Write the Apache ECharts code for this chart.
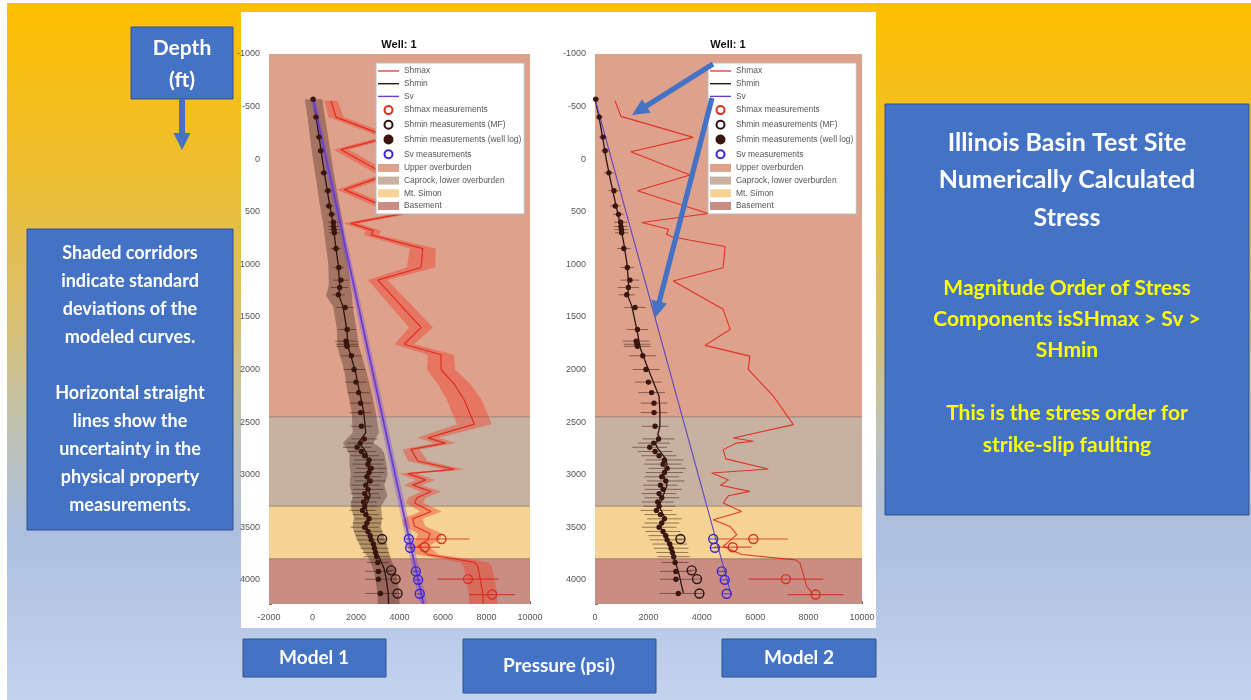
<!DOCTYPE html>
<html>
<head>
<meta charset="utf-8">
<script src="https://cdn.jsdelivr.net/npm/echarts@6/dist/echarts.min.js"></script>
<style>
  html, body { margin: 0; padding: 0; background: #fff; }
  #chart { width: 1251px; height: 700px; }
</style>
</head>
<body>
<div id="chart"></div>
<script>
// ---- data: [depth (ft), pressure (psi), std dev] ----
var shmaxModel1 = [
  [-555, 850, 300], [-400, 1080, 350], [-210, 3500, 350], [-90, 1310, 350], [150, 3400, 350],
  [290, 1460, 350], [520, 4100, 400], [610, 1770, 350], [680, 2800, 350], [720, 2700, 350],
  [850, 5070, 600], [1030, 4990, 650], [1150, 3000, 450], [1600, 4990, 550], [1760, 4220, 450],
  [1860, 5910, 600], [2000, 5910, 650], [2140, 6520, 750], [2290, 6980, 800], [2520, 7440, 800],
  [2650, 5300, 500], [2700, 6100, 500], [2760, 4530, 400], [2870, 4840, 450], [2950, 6520, 500],
  [2990, 4380, 400], [3050, 5200, 450], [3100, 4600, 400], [3160, 5450, 450], [3220, 4800, 400],
  [3270, 4690, 400], [3350, 5450, 500], [3420, 4600, 450], [3490, 4690, 500], [3560, 5400, 550],
  [3620, 5300, 550], [3680, 4840, 500], [3760, 5300, 500], [3800, 6500, 600], [3835, 7440, 650],
  [3870, 7600, 650], [4127, 7830, 650], [4230, 7850, 650]
];
var shminModel1 = [
  [-570, 50, 400], [-400, 170, 400], [-200, 310, 420], [0, 450, 430], [200, 600, 430],
  [400, 760, 450], [600, 930, 450], [800, 1050, 450], [1000, 1180, 450], [1200, 1250, 500],
  [1300, 1220, 600], [1400, 1400, 450], [1600, 1560, 450], [1800, 1660, 500], [2000, 1950, 500],
  [2200, 2150, 550], [2400, 2350, 550], [2600, 2450, 600], [2700, 2100, 700], [2750, 2350, 800],
  [2800, 2500, 800], [2900, 2550, 850], [3000, 2600, 850], [3100, 2500, 800], [3200, 2650, 800],
  [3300, 2450, 700], [3400, 2550, 650], [3500, 2500, 650], [3600, 2650, 650], [3700, 2850, 600],
  [3800, 3100, 500], [3900, 3300, 500], [4000, 3400, 500], [4127, 3480, 500], [4230, 3500, 500]
];
var svModel1 = [[-570, 30, 110], [4230, 5100, 160]];

var shmaxModel2 = [
  [-555, 750], [-407, 970], [-207, 3680], [-70, 1340], [150, 3560], [300, 1590], [517, 4240],
  [603, 1750], [667, 2750], [714, 2680], [740, 2900], [831, 4870], [1032, 4800], [1159, 2930],
  [1428, 4800], [1619, 5060], [1771, 4120], [1873, 5800], [2000, 5740], [2254, 6680], [2524, 7430],
  [2651, 5180], [2683, 5930], [2700, 5300], [2762, 4800], [2850, 4900], [2946, 6490], [2984, 4370],
  [3050, 5000], [3100, 4700], [3159, 5800], [3200, 5000], [3270, 4800], [3350, 5490], [3429, 4430],
  [3492, 5060], [3571, 5310], [3683, 4800], [3760, 5500], [3810, 7500], [3841, 7680], [4063, 7930],
  [4143, 8180]
];
var shminModel2 = [
  [-571, 0], [-400, 150], [-200, 290], [0, 420], [200, 580], [400, 750], [600, 930], [800, 1080],
  [1000, 1200], [1200, 1260], [1300, 1230], [1400, 1380], [1600, 1550], [1800, 1700], [2000, 2000],
  [2254, 2400], [2400, 2430], [2540, 2430], [2620, 2350], [2660, 2450], [2700, 2250], [2750, 2350],
  [2800, 2500], [2850, 2650], [2900, 2700], [3000, 2560], [3100, 2700], [3200, 2550], [3300, 2400],
  [3400, 2600], [3500, 2450], [3600, 2650], [3683, 2810], [3765, 2930], [3920, 3120], [4127, 3310]
];
var svModel2 = [[-570, 0], [4150, 5110]];

// measurements: [depth, pressure, +/- uncertainty]
var shminWellLog = [
  [-570, 30, 100], [-400, 160, 120], [-210, 300, 150], [-80, 380, 150], [130, 520, 180],
  [300, 710, 200], [445, 760, 200], [525, 880, 200], [600, 960, 250], [640, 970, 250],
  [670, 990, 250], [700, 1000, 250], [850, 1080, 250], [1030, 1210, 250], [1150, 1310, 350],
  [1220, 1250, 400], [1290, 1190, 300], [1410, 1500, 400], [1620, 1590, 400], [1730, 1540, 500],
  [1760, 1570, 500], [1780, 1590, 500], [1870, 1790, 500], [2000, 1910, 500], [2120, 2000, 500],
  [2220, 2120, 500], [2320, 2210, 500], [2410, 2210, 500], [2540, 2250, 500], [2660, 2380, 600],
  [2700, 2200, 600], [2740, 2050, 650], [2780, 2250, 650], [2820, 2400, 650], [2860, 2600, 700],
  [2900, 2550, 700], [2940, 2700, 700], [2980, 2600, 700], [3020, 2500, 650], [3060, 2650, 700],
  [3100, 2450, 650], [3140, 2550, 700], [3180, 2400, 650], [3220, 2500, 650], [3260, 2350, 600],
  [3300, 2400, 600], [3340, 2300, 600], [3380, 2450, 600], [3420, 2600, 650], [3460, 2500, 650],
  [3500, 2400, 650], [3540, 2550, 650], [3580, 2650, 650], [3620, 2700, 650], [3660, 2800, 650],
  [3700, 2850, 650], [3740, 2900, 600], [3780, 2950, 600], [3835, 3000, 500], [3920, 3030, 600],
  [3995, 3030, 600], [4130, 3120, 700]
];
var shminMF = [[3612, 3200, 150], [3910, 3620, 150], [3993, 3820, 150], [4130, 3910, 150]];
var shmaxMeas = [[3612, 5930, 1300], [3690, 5160, 700], [3993, 7150, 1400], [4140, 8260, 1050]];
var svMeas = [[3612, 4430, 150], [3695, 4490, 150], [3920, 4750, 150], [4000, 4860, 150], [4133, 4930, 150]];

// formation zones
var zoneNames = ['Upper overburden', 'Caprock, lower overburden', 'Mt. Simon', 'Basement'];
var zoneTops = [-1000, 2450, 3300, 3800];
var zoneBottoms = [2450, 3300, 3800, 4230];
var zoneColors = ['#DEA18C', '#C9B1A1', '#F6D395', '#C98D83'];

var depthTicks = [-1000, 4230, 500];
var pressureTicks1 = [-2000, 10000, 2000];
var pressureTicks2 = [0, 10000, 2000];

var chart = echarts.init(document.getElementById('chart'));

function xy(rows) {
  return rows.map(function (r) { return [r[1], r[0]]; });
}

function zoneSeries(g) {
  return zoneNames.map(function (name, i) {
    return {
      type: 'custom', name: name, xAxisIndex: g, yAxisIndex: g, silent: true, z: 1,
      itemStyle: {color: zoneColors[i]},
      data: [[0, zoneTops[i], zoneBottoms[i]]],
      encode: {x: 0, y: 1},
      renderItem: function (params, api) {
        var cs = params.coordSys;
        var y1 = api.coord([0, api.value(1)])[1];
        var y2 = api.coord([0, api.value(2)])[1];
        var children = [{
          type: 'rect', shape: {x: cs.x, y: y1, width: cs.width, height: y2 - y1},
          style: {fill: zoneColors[i]}
        }];
        if (i > 0) {
          children.push({
            type: 'line', shape: {x1: cs.x, y1: y1, x2: cs.x + cs.width, y2: y1},
            style: {stroke: 'rgba(110,80,70,0.55)', lineWidth: 1}
          });
        }
        return {type: 'group', children: children};
      }
    };
  });
}

function bandSeries(rows, color, g) {
  return {
    type: 'custom', xAxisIndex: g, yAxisIndex: g, silent: true, z: 2,
    data: [[rows[0][1], rows[0][0]]],
    renderItem: function (params, api) {
      var left = rows.map(function (r) { return api.coord([r[1] - r[2], r[0]]); });
      var right = rows.map(function (r) { return api.coord([r[1] + r[2], r[0]]); }).reverse();
      return {type: 'polygon', shape: {points: left.concat(right)}, style: {fill: color}};
    }
  };
}

function errorBarSeries(rows, color, g, w) {
  return {
    type: 'custom', xAxisIndex: g, yAxisIndex: g, silent: true, z: 4,
    data: rows.map(function (r) { return [r[1] - r[2], r[1] + r[2], r[0]]; }),
    encode: {x: [0, 1], y: 2},
    renderItem: function (params, api) {
      var a = api.coord([api.value(0), api.value(2)]);
      var b = api.coord([api.value(1), api.value(2)]);
      return {type: 'line', shape: {x1: a[0], y1: a[1], x2: b[0], y2: b[1]},
        style: {stroke: color, lineWidth: w}};
    }
  };
}

function lineSeries(name, rows, color, g, w) {
  return {
    type: 'line', name: name, xAxisIndex: g, yAxisIndex: g, z: 3,
    symbol: 'none', showSymbol: false, animation: false,
    lineStyle: {color: color, width: w}, itemStyle: {color: color},
    data: xy(rows)
  };
}

function scatterSeries(name, rows, fill, stroke, size, g) {
  return {
    type: 'scatter', name: name, xAxisIndex: g, yAxisIndex: g, z: 5,
    symbol: 'circle', symbolSize: size,
    itemStyle: {color: fill, borderColor: stroke, borderWidth: 1.4, opacity: 1},
    data: xy(rows)
  };
}

var series = [];
[0, 1].forEach(function (g) {
  series = series.concat(zoneSeries(g));
});
// model 1 std-dev corridors
series.push(bandSeries(shminModel1, 'rgba(60,30,20,0.35)', 0));
series.push(bandSeries(shmaxModel1, 'rgba(240,60,40,0.42)', 0));
series.push(bandSeries(svModel1, 'rgba(110,70,230,0.35)', 0));

[0, 1].forEach(function (g) {
  series.push(lineSeries('Shmax', g === 0 ? shmaxModel1 : shmaxModel2, 'rgba(225,30,20,0.85)', g, g === 0 ? 1.2 : 1.1));
  series.push(lineSeries('Shmin', g === 0 ? shminModel1 : shminModel2, '#2b1510', g, 1.3));
  series.push(lineSeries('Sv', g === 0 ? svModel1 : svModel2, g === 0 ? '#6a3fd0' : '#5a45c0', g, g === 0 ? 1.8 : 1.1));
  series.push(errorBarSeries(shminWellLog, 'rgba(50,25,15,0.5)', g, 1));
  series.push(errorBarSeries(shminMF, 'rgba(50,25,15,0.5)', g, 1));
  series.push(errorBarSeries(shmaxMeas, 'rgba(215,35,20,0.75)', g, 1.2));
  series.push(errorBarSeries(svMeas, 'rgba(60,40,210,0.7)', g, 1.2));
  series.push(scatterSeries('Shmax measurements', shmaxMeas, 'rgba(0,0,0,0)', '#d8301e', 9, g));
  series.push(scatterSeries('Shmin measurements (MF)', shminMF, 'rgba(0,0,0,0)', '#2a1510', 9, g));
  series.push(scatterSeries('Shmin measurements (well log)', shminWellLog, '#3a160e', '#3a160e', 4, g));
  series.push(scatterSeries('Sv measurements', svMeas, 'rgba(0,0,0,0)', '#3a26d8', 9, g));
});

var lineIcon = 'path://M0,0 L24,0 L24,1.6 L0,1.6 Z';
var legendData = [
  {name: 'Shmax', icon: lineIcon}, {name: 'Shmin', icon: lineIcon}, {name: 'Sv', icon: lineIcon},
  {name: 'Shmax measurements', icon: 'circle'},
  {name: 'Shmin measurements (MF)', icon: 'circle'},
  {name: 'Shmin measurements (well log)', icon: 'circle'},
  {name: 'Sv measurements', icon: 'circle'}
].concat(zoneNames.map(function (n) { return {name: n, icon: 'rect'}; }));

function legendAt(left) {
  return {
    orient: 'vertical', left: left, top: 63, selectedMode: false,
    backgroundColor: '#fff', borderColor: '#bbb', borderWidth: 1,
    padding: [4, 3, 4, 2], itemWidth: 21, itemHeight: 8, itemGap: 4.7,
    textStyle: {fontSize: 8.4, color: '#555', fontFamily: 'Liberation Sans', lineHeight: 8},
    data: legendData, z: 20
  };
}

function plain(v) { return String(v); }

function xAxisOf(g, t) {
  return {
    type: 'value', gridIndex: g, min: t[0], max: t[1], interval: t[2],
    splitLine: {show: false}, axisLine: {show: false, onZero: false},
    axisTick: {show: true, inside: true, length: 3, lineStyle: {color: '#777'}},
    axisLabel: {fontSize: 9, color: '#555', margin: 9, fontFamily: 'Liberation Sans', formatter: plain}
  };
}

function yAxisOf(g) {
  return {
    type: 'value', gridIndex: g, inverse: true, min: depthTicks[0], max: depthTicks[1], interval: depthTicks[2],
    splitLine: {show: false}, axisLine: {show: false, onZero: false},
    axisTick: {show: true, inside: true, length: 3, lineStyle: {color: '#777'}},
    axisLabel: {
      fontSize: 9, color: '#555', margin: 9, fontFamily: 'Liberation Sans',
      formatter: function (v) { return v % 500 === 0 ? String(v) : ''; }
    }
  };
}

function arrow(x1, y1, x2, y2, hw, hl, hh) {
  var dx = x2 - x1, dy = y2 - y1, len = Math.sqrt(dx * dx + dy * dy);
  var ux = dx / len, uy = dy / len, nx = -uy, ny = ux;
  var bx = x2 - ux * hl, by = y2 - uy * hl;
  return [
    [x1 + nx * hw, y1 + ny * hw], [bx + nx * hw, by + ny * hw], [bx + nx * hh, by + ny * hh],
    [x2, y2],
    [bx - nx * hh, by - ny * hh], [bx - nx * hw, by - ny * hw], [x1 - nx * hw, y1 - ny * hw]
  ];
}

var blue = '#4472C4';
function box(x, y, w, h) {
  return {type: 'rect', z: 100, shape: {x: x, y: y, width: w, height: h},
    style: {fill: blue, stroke: '#2F528F', lineWidth: 1}};
}
function label(text, x, y, size, color, lh) {
  return {type: 'text', z: 101, x: x, y: y,
    style: {text: text, fill: color, fontSize: size, fontWeight: 'bold', fontFamily: 'Lato',
      lineHeight: lh || size * 1.2, align: 'center', verticalAlign: 'middle',
      textAlign: 'center', textVerticalAlign: 'middle'}};
}

var option = {
  animation: false,
  grid: [
    {left: 269, top: 54, width: 261, height: 550},
    {left: 595, top: 54, width: 267, height: 550}
  ],
  xAxis: [xAxisOf(0, pressureTicks1), xAxisOf(1, pressureTicks2)],
  yAxis: [yAxisOf(0), yAxisOf(1)],
  legend: [legendAt(376), legendAt(708)],
  series: series,
  graphic: [
    {type: 'rect', z: -100, silent: true, shape: {x: 7, y: 3, width: 1244, height: 697},
      style: {fill: new echarts.graphic.LinearGradient(0, 0, 0, 1, [
        {offset: 0, color: '#FFC000'},
        {offset: 0.25, color: '#EDBE33'},
        {offset: 0.45, color: '#D9BF6E'},
        {offset: 0.62, color: '#BEC3B6'},
        {offset: 0.76, color: '#ADBFE0'},
        {offset: 1, color: '#C3D3EE'}
      ])}},
    {type: 'rect', z: -99, silent: true, shape: {x: 241, y: 12, width: 635, height: 616}, style: {fill: '#fff'}},
    {type: 'text', z: 50, x: 399, y: 45, style: {text: 'Well: 1', fill: '#111', fontSize: 11, fontWeight: 'bold',
      fontFamily: 'Liberation Sans', align: 'center', verticalAlign: 'middle', textAlign: 'center', textVerticalAlign: 'middle'}},
    {type: 'text', z: 50, x: 728, y: 45, style: {text: 'Well: 1', fill: '#111', fontSize: 11, fontWeight: 'bold',
      fontFamily: 'Liberation Sans', align: 'center', verticalAlign: 'middle', textAlign: 'center', textVerticalAlign: 'middle'}},

    box(131, 27, 102, 72),
    label('Depth\n(ft)', 182, 64, 21, '#fff', 32),
    {type: 'polygon', z: 100, shape: {points: arrow(182, 99, 182, 150, 3, 17, 8.5)}, style: {fill: blue}},

    box(27, 229, 206, 301),
    label('Shaded corridors\nindicate standard\ndeviations of the\nmodeled curves.\n\nHorizontal straight\nlines show the\nuncertainty in the\nphysical property\nmeasurements.',
      130, 379, 18, '#fff', 28),

    box(885, 104, 364, 411),
    label('Illinois Basin Test Site\nNumerically Calculated\nStress', 1067, 180, 25, '#fff', 37.5),
    label('Magnitude Order of Stress\nComponents isSHmax > Sv >\nSHmin', 1067, 319, 21, '#FFFF00', 31),
    label('This is the stress order for\nstrike-slip faulting', 1067, 429, 21, '#FFFF00', 32),

    box(243, 639, 143, 38),
    label('Model 1', 314, 658, 19, '#fff'),
    box(463, 639, 193, 54),
    label('Pressure (psi)', 559, 666, 19, '#fff'),
    box(722, 639, 154, 38),
    label('Model 2', 799, 658, 19, '#fff'),

    {type: 'polygon', z: 60, shape: {points: arrow(713, 64, 632, 115, 2.6, 17, 8)}, style: {fill: blue}},
    {type: 'polygon', z: 60, shape: {points: arrow(712, 98, 655, 318, 2.6, 17, 8)}, style: {fill: blue}}
  ]
};

chart.setOption(option);
</script>
</body>
</html>
